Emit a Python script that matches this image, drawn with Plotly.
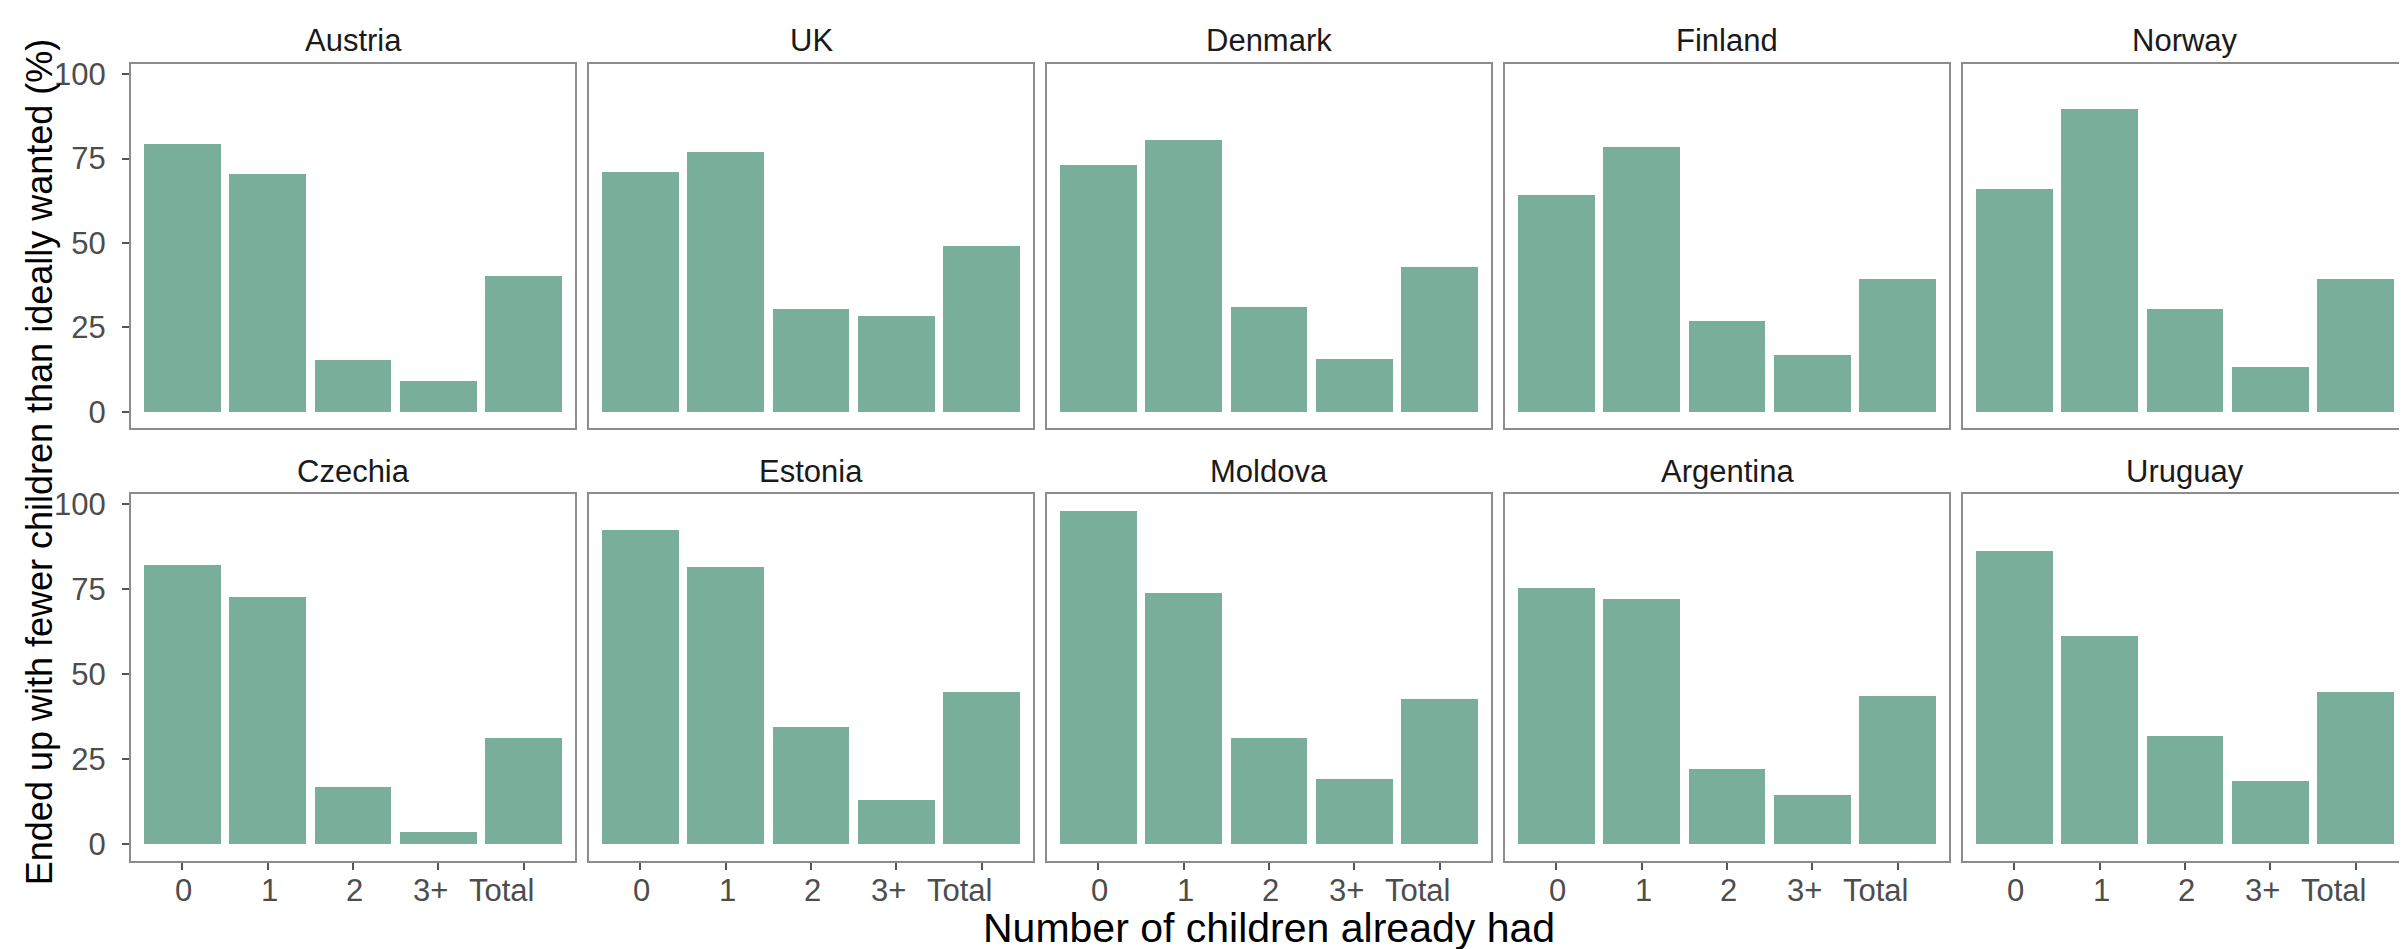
import plotly.graph_objects as go

categories = ["0", "1", "2", "3+", "Total"]
countries = ["Austria", "UK", "Denmark", "Finland", "Norway",
             "Czechia", "Estonia", "Moldova", "Argentina", "Uruguay"]

austria = [79.4, 70.6, 15.5, 9.3, 40.5]
uk = [71.1, 77.0, 30.5, 28.5, 49.3]
denmark = [73.2, 80.5, 31.1, 15.9, 43.0]
finland = [64.4, 78.5, 26.9, 17.1, 39.4]
norway = [66.0, 89.9, 30.5, 13.4, 39.4]
czechia = [82.2, 72.9, 16.7, 3.7, 31.4]
estonia = [92.6, 81.6, 34.5, 13.0, 44.7]
moldova = [98.2, 73.9, 31.4, 19.3, 42.7]
argentina = [75.5, 72.3, 22.0, 14.6, 43.7]
uruguay = [86.4, 61.4, 31.8, 18.7, 44.7]

values = [austria, uk, denmark, finland, norway,
          czechia, estonia, moldova, argentina, uruguay]

y_ticks = [0, 25, 50, 75, 100]
x_title = "Number of children already had"
y_title = "Ended up with fewer children than ideally wanted (%)"

W, H = 2407, 949
FONT = "Liberation Sans"
BAR = "#79AE9B"
BORDER = "#8c8c8c"
TICKC = "#4D4D4D"

ymax = max(max(v) for v in values)
yrange = [-0.05 * ymax, ymax * 1.05]

col_left = [123 + 458 * i for i in range(5)]
panel_w = 444
row_top = [49, 483]
row_bot = [417, 853]

fig = go.Figure()
layout = {}
annotations = []
xs = list(range(len(categories)))

for k, (name, vals) in enumerate(zip(countries, values)):
    r, c = divmod(k, 5)
    n = k + 1
    xa = "x" if n == 1 else f"x{n}"
    ya = "y" if n == 1 else f"y{n}"
    fig.add_trace(go.Bar(x=xs, y=vals, xaxis=xa, yaxis=ya, width=0.9,
                         marker=dict(color=BAR, line=dict(width=0)),
                         showlegend=False, hoverinfo="x+y"))
    xd = [col_left[c] / W, (col_left[c] + panel_w) / W]
    yd = [1 - row_bot[r] / H, 1 - row_top[r] / H]
    xkey = "xaxis" if n == 1 else f"xaxis{n}"
    ykey = "yaxis" if n == 1 else f"yaxis{n}"
    layout[xkey] = dict(
        domain=xd, anchor=ya, range=[-0.6, len(categories) - 0.4],
        tickmode="array", tickvals=xs, ticktext=categories,
        showticklabels=False, ticks="outside" if r == 1 else "",
        ticklen=7, tickwidth=2, tickcolor="#555555",
        showline=True, mirror=True, linecolor=BORDER, linewidth=2,
        showgrid=False, zeroline=False, fixedrange=True)
    layout[ykey] = dict(
        domain=yd, anchor=xa, range=yrange,
        tickmode="array", tickvals=y_ticks, ticktext=[str(t) for t in y_ticks],
        showticklabels=(c == 0), ticks="outside" if c == 0 else "",
        ticklen=7, tickwidth=2, tickcolor="#555555", ticklabelstandoff=10,
        tickfont=dict(family=FONT, size=31, color=TICKC),
        showline=True, mirror=True, linecolor=BORDER, linewidth=2,
        showgrid=False, zeroline=False, fixedrange=True)
    annotations.append(dict(
        text=name, xref="paper", yref="paper",
        x=(col_left[c] + panel_w / 2) / W, y=1 - (row_top[r] - 23) / H,
        xanchor="center", yanchor="middle", showarrow=False,
        font=dict(family=FONT, size=31, color="#1A1A1A")))
    if r == 1:
        for xi, lab in zip(xs, categories):
            annotations.append(dict(
                text=lab, xref=xa, yref="paper", x=xi, xshift=12,
                y=1 - 883 / H, xanchor="right", yanchor="middle",
                showarrow=False,
                font=dict(family=FONT, size=31, color=TICKC)))

annotations.append(dict(
    text=x_title, xref="paper", yref="paper",
    x=(col_left[0] + col_left[4] + panel_w) / 2 / W, y=1 - 921 / H,
    xanchor="center", yanchor="middle", showarrow=False,
    font=dict(family=FONT, size=41, color="#000000")))
annotations.append(dict(
    text=y_title, xref="paper", yref="paper", textangle=-90,
    x=31 / W, y=1 - ((row_top[0] + row_bot[1]) / 2) / H,
    xanchor="center", yanchor="middle", showarrow=False,
    font=dict(family=FONT, size=36, color="#000000")))

fig.update_layout(**layout)
fig.update_layout(
    width=W, height=H, margin=dict(l=0, r=0, t=0, b=0),
    paper_bgcolor="white", plot_bgcolor="white",
    bargap=0, annotations=annotations,
    font=dict(family=FONT))

fig.write_html("out.html")
